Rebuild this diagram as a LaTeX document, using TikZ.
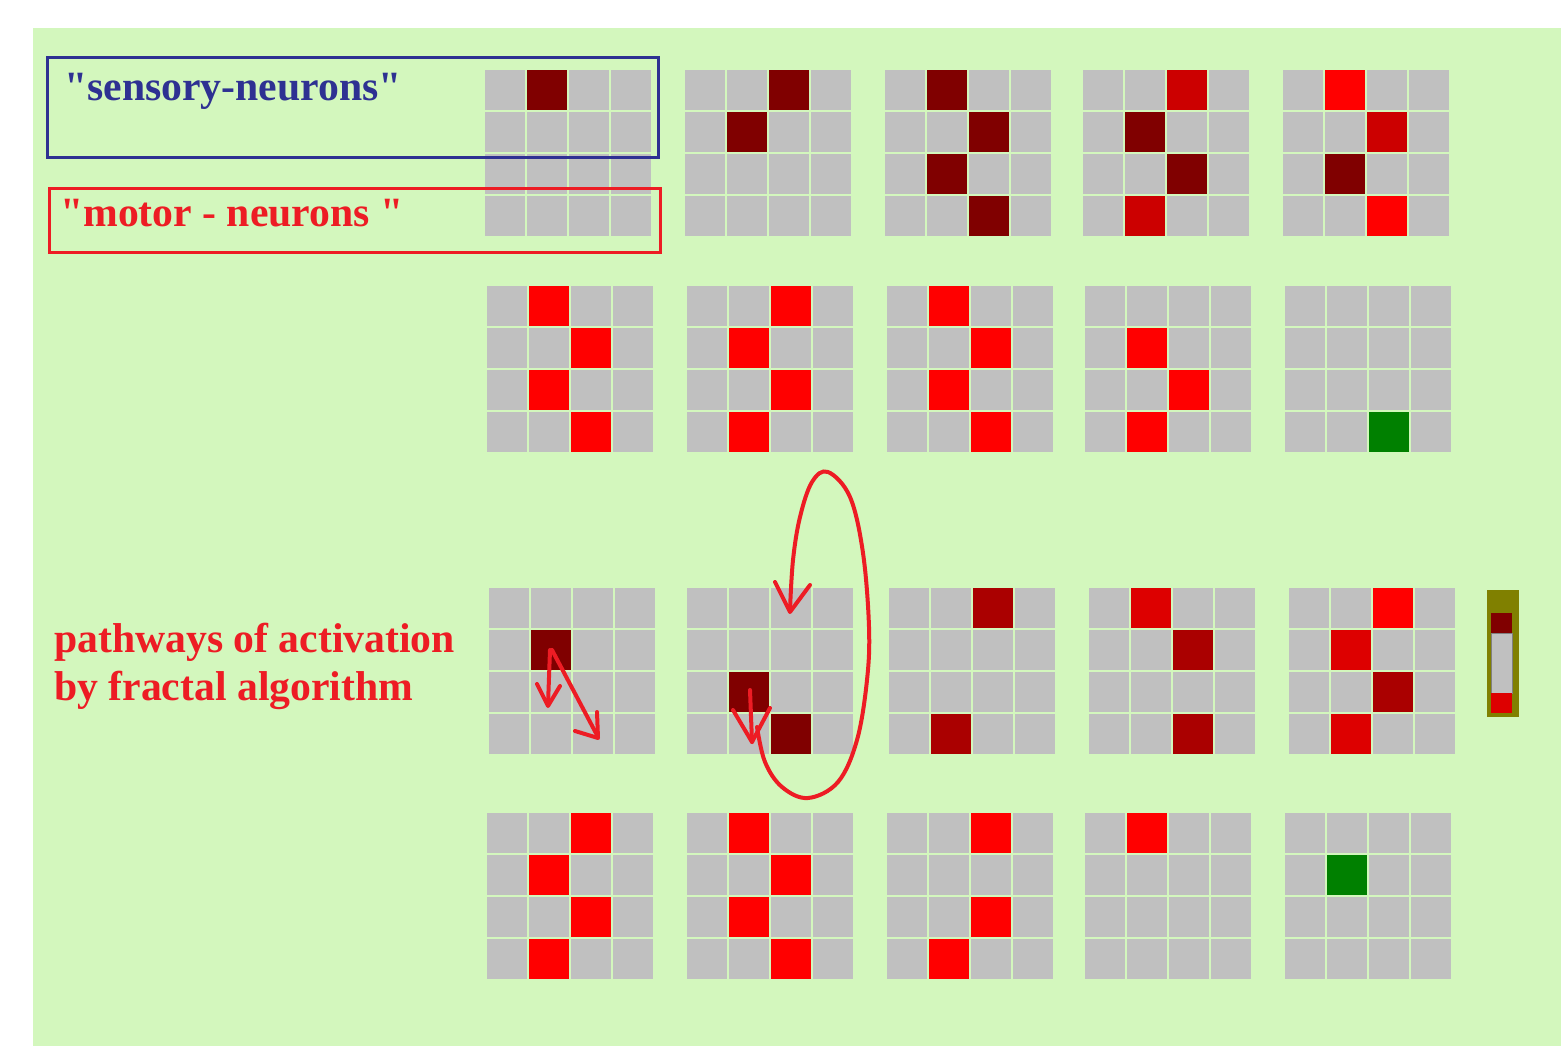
\documentclass[tikz,border=0pt]{standalone}
\usepackage{fontspec}
\setmainfont{Liberation Serif}[Ligatures=TeXOff]
\definecolor{bggreen}{RGB}{211,247,189}
\definecolor{cellgray}{RGB}{192,192,192}
\definecolor{dred}{RGB}{128,0,0}
\definecolor{mred}{RGB}{204,0,0}
\definecolor{ared}{RGB}{170,0,0}
\definecolor{bred}{RGB}{221,0,0}
\definecolor{fred}{RGB}{255,0,0}
\definecolor{dgreen}{RGB}{0,128,0}
\definecolor{olive}{RGB}{128,128,0}
\definecolor{txtblue}{RGB}{46,49,146}
\definecolor{penred}{RGB}{237,28,36}
\newcommand{\ngrid}[3]{%
  \foreach \r in {0,...,3}{\foreach \c in {0,...,3}{
    \node[cell] (#1-\r-\c) at ({#2+20+42*\c},{#3+20+42*\r}) {};}}}
\newcommand{\hot}[4]{\fill[#4] (#1-#2-#3.north west) rectangle (#1-#2-#3.south east);}
\begin{document}
\begin{tikzpicture}[x=1pt,y=-1pt,
  cell/.style={fill=cellgray,draw=none,minimum size=40pt,inner sep=0pt,outer sep=0pt},
  lbl/.style={anchor=base west,inner sep=0pt,font=\fontsize{41.7}{48}\selectfont\bfseries},
  pen/.style={penred,line width=4pt,line cap=round,line join=round}]
\useasboundingbox (0,0) rectangle (1561,1046);
\fill[white] (0,0) rectangle (1561,1046);
\fill[bggreen] (33,28) rectangle (1561,1046);
% row 1
\ngrid{a1}{485}{70}\ngrid{a2}{685}{70}\ngrid{a3}{885}{70}\ngrid{a4}{1083}{70}\ngrid{a5}{1283}{70}
% row 2
\ngrid{b1}{487}{286}\ngrid{b2}{687}{286}\ngrid{b3}{887}{286}\ngrid{b4}{1085}{286}\ngrid{b5}{1285}{286}
% row 3
\ngrid{c1}{489}{588}\ngrid{c2}{687}{588}\ngrid{c3}{889}{588}\ngrid{c4}{1089}{588}\ngrid{c5}{1289}{588}
% row 4
\ngrid{d1}{487}{813}\ngrid{d2}{687}{813}\ngrid{d3}{887}{813}\ngrid{d4}{1085}{813}\ngrid{d5}{1285}{813}
% active cells row 1
\hot{a1}{0}{1}{dred}
\hot{a2}{0}{2}{dred}\hot{a2}{1}{1}{dred}
\hot{a3}{0}{1}{dred}\hot{a3}{1}{2}{dred}\hot{a3}{2}{1}{dred}\hot{a3}{3}{2}{dred}
\hot{a4}{0}{2}{mred}\hot{a4}{1}{1}{dred}\hot{a4}{2}{2}{dred}\hot{a4}{3}{1}{mred}
\hot{a5}{0}{1}{fred}\hot{a5}{1}{2}{mred}\hot{a5}{2}{1}{dred}\hot{a5}{3}{2}{fred}
% row 2
\hot{b1}{0}{1}{fred}\hot{b1}{1}{2}{fred}\hot{b1}{2}{1}{fred}\hot{b1}{3}{2}{fred}
\hot{b2}{0}{2}{fred}\hot{b2}{1}{1}{fred}\hot{b2}{2}{2}{fred}\hot{b2}{3}{1}{fred}
\hot{b3}{0}{1}{fred}\hot{b3}{1}{2}{fred}\hot{b3}{2}{1}{fred}\hot{b3}{3}{2}{fred}
\hot{b4}{1}{1}{fred}\hot{b4}{2}{2}{fred}\hot{b4}{3}{1}{fred}
\hot{b5}{3}{2}{dgreen}
% row 3
\hot{c1}{1}{1}{dred}
\hot{c2}{2}{1}{dred}\hot{c2}{3}{2}{dred}
\hot{c3}{0}{2}{ared}\hot{c3}{3}{1}{ared}
\hot{c4}{0}{1}{bred}\hot{c4}{1}{2}{ared}\hot{c4}{3}{2}{ared}
\hot{c5}{0}{2}{fred}\hot{c5}{1}{1}{bred}\hot{c5}{2}{2}{ared}\hot{c5}{3}{1}{bred}
% row 4
\hot{d1}{0}{2}{fred}\hot{d1}{1}{1}{fred}\hot{d1}{2}{2}{fred}\hot{d1}{3}{1}{fred}
\hot{d2}{0}{1}{fred}\hot{d2}{1}{2}{fred}\hot{d2}{2}{1}{fred}\hot{d2}{3}{2}{fred}
\hot{d3}{0}{2}{fred}\hot{d3}{2}{2}{fred}\hot{d3}{3}{1}{fred}
\hot{d4}{0}{1}{fred}
\hot{d5}{1}{1}{dgreen}
% legend bar
\node[fill=olive,draw=none,inner sep=0pt,minimum width=32pt,minimum height=127pt] (bar) at (1503,653.5) {};
\node[fill=dred,inner sep=0pt,minimum width=21pt,minimum height=20pt] (barA) at (1501.5,623) {};
\node[fill=cellgray,draw=gray,line width=0.8pt,inner sep=0pt,minimum width=21pt,minimum height=60pt] (barB) at (1501.5,663) {};
\node[fill=bred,inner sep=0pt,minimum width=21pt,minimum height=20pt] (barC) at (1501.5,703) {};
% labels and boxes
\draw[txtblue,line width=3pt] (47,58) rectangle (658,158);
\draw[penred,line width=3pt] (49,188) rectangle (660,252);
\node[lbl,text=txtblue] (sens) at (64,101) {"sensory-neurons"};
\node[lbl,text=penred] (mot) at (60,226) {"motor - neurons "};
\node[lbl,text=penred] (pw1) at (54,652) {pathways of activation};
\node[lbl,text=penred] (pw2) at (54,700) {by fractal algorithm};
% hand drawn arrows
\draw[pen] (550,650) -- (548,705);
\draw[pen] (537,684) -- (548,706) -- (560,686);
\draw[pen] (552,650) -- (598,737);
\draw[pen] (575,731) -- (598,738) -- (597,712);
\draw[pen] (750,690) -- (752,742);
\draw[pen] (733,710) -- (752,742) -- (770,708);
\draw[pen] plot[smooth,tension=0.6] coordinates {(757,727) (765,762) (782,787) (808,798) (838,782) (857,740) (867,680) (869,627) (863,553) (850,497) (828,472) (812,482) (800,517) (793,560) (790,610)};
\draw[pen] (775,582) -- (790,612) -- (810,585);
\end{tikzpicture}
\end{document}
